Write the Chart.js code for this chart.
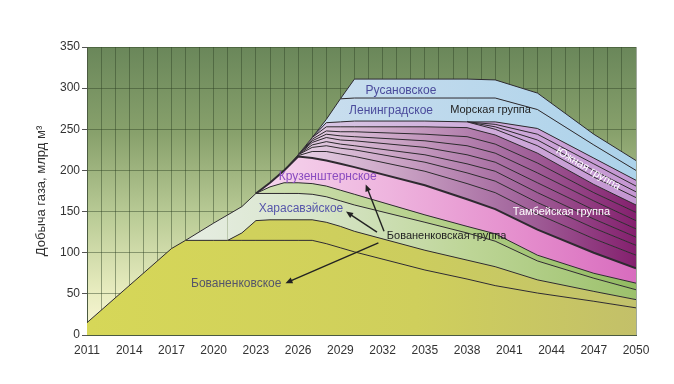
<!DOCTYPE html>
<html>
<head>
<meta charset="utf-8">
<script src="https://cdn.jsdelivr.net/npm/chart.js@4.4.1/dist/chart.umd.min.js"></script>
<style>
  html, body { margin: 0; padding: 0; background: #fff; }
</style>
</head>
<body>
<canvas id="gasChart" width="674" height="384"></canvas>
<script>
const years = [2011, 2017, 2018, 2020, 2021, 2022, 2023, 2024, 2025, 2026, 2027, 2028, 2029, 2030, 2035, 2038, 2040, 2043, 2047, 2050];
const tickLabels = ['2011', '2014', '2017', '2020', '2023', '2026', '2029', '2032', '2035', '2038', '2041', '2044', '2047', '2050'];

// layer thicknesses, bcm per year (stacked bottom to top)
const bovanenkovskoe  = [15, 105, 115, 115, 115, 115, 115, 115, 115, 115, 115, 111, 106, 101, 79, 68, 60, 51, 41, 33];
const bovanenkovGroup = [0, 0, 0, 0, 0, 9, 24, 25, 25, 25, 25, 26, 26, 25, 24, 23, 23, 16, 12, 10];
const kharasaveyskoe  = [0, 0, 0, 21, 31, 32, 33, 32, 32, 32, 31, 31, 31, 32, 34, 33, 31, 23, 16, 12];
const bovGroupUpper   = [0, 0, 0, 0, 0, 0, 0, 8, 13, 13, 13, 13, 13, 13, 9, 8, 9, 7, 6, 8];
const kruzenshternskoe = [0, 0, 0, 0, 0, 0, 0, 5, 15, 32, 31, 31, 32, 33, 36, 33, 30, 31, 25, 18];

const tambey1 = [0, 0, 0, 0, 0, 0, 0, 0, 0, 1, 8, 11, 12, 13, 17, 19, 20, 19, 17, 16];
const tambey2 = [0, 0, 0, 0, 0, 0, 0, 0, 0, 1, 5, 7, 7, 8, 11, 13, 14, 14, 13, 12];
const tambey3 = [0, 0, 0, 0, 0, 0, 0, 0, 0, 0, 3, 5, 5, 5, 9, 11, 12, 12, 11, 10];
const tambey4 = [0, 0, 0, 0, 0, 0, 0, 0, 0, 0, 3, 5, 5, 6, 9, 11, 11, 12, 11, 10];
const tambey5 = [0, 0, 0, 0, 0, 0, 0, 0, 0, 0, 2, 4, 5, 5, 8, 11, 11, 12, 11, 10];
const tambey6 = [0, 0, 0, 0, 0, 0, 0, 0, 0, 0, 2, 4, 5, 6, 8, 11, 11, 12, 10, 10];
const tambey7 = [0, 0, 0, 0, 0, 0, 0, 0, 0, 0, 2, 5, 6, 6, 9, 11, 11, 12, 10, 9];

const yuzhnaya1 = [0, 0, 0, 0, 0, 0, 0, 0, 0, 0, 0, 5, 6, 7, 7, 7, 7, 9, 9, 9];
const yuzhnaya2 = [0, 0, 0, 0, 0, 0, 0, 0, 0, 0, 0, 0, 0, 0, 0, 0, 3, 7, 8, 7];
const yuzhnaya3 = [0, 0, 0, 0, 0, 0, 0, 0, 0, 0, 0, 0, 0, 0, 0, 0, 3, 7, 8, 7];
const yuzhnaya4 = [0, 0, 0, 0, 0, 0, 0, 0, 0, 0, 0, 0, 0, 0, 0, 0, 3, 7, 7, 7];

const leningradskoe = [0, 0, 0, 0, 0, 0, 0, 0, 0, 0, 0, 4, 28, 28, 28, 29, 29, 23, 16, 12];
const rusanovskoe   = [0, 0, 0, 0, 0, 0, 0, 0, 0, 0, 0, 0, 0, 23, 23, 23, 22, 20, 13, 12];

// horizontal colour ramps for the fills
function ramp(stops) {
  return function(context) {
    const chart = context.chart;
    const area = chart.chartArea;
    if (!area) return stops[0][1];
    const g = chart.ctx.createLinearGradient(area.left, 0, area.right, 0);
    stops.forEach(s => g.addColorStop(s[0], s[1]));
    return g;
  };
}

const yellowFill  = ramp([[0, '#d6d758'], [0.6, '#cfcf5c'], [1, '#c3c069']]);
const yellow2Fill = ramp([[0, '#d4d55a'], [0.6, '#cccd5e'], [1, '#c2c26c']]);
const kharasFill  = ramp([[0.15, '#e8eee6'], [0.4, '#d9e6cc'], [0.7, '#bdd596'], [1, '#9cc16c']]);
const greenFill   = ramp([[0.3, '#d0e0b4'], [0.6, '#b8d28e'], [1, '#92bb62']]);
const pinkFill    = ramp([[0.3, '#f6d8ee'], [0.55, '#eeb4de'], [0.8, '#e48ccc'], [1, '#d86cbe']]);
const tambeyFill  = ramp([[0.35, '#ead8ea'], [0.55, '#cda8c8'], [0.78, '#a4689e'], [1, '#84206e']]);
const yuzhFill    = ramp([[0.4, '#d8c8e4'], [0.7, '#d0aedc'], [1, '#c496d2']]);
const blueFill    = ramp([[0.4, '#cadeee'], [1, '#acd2ea']]);

const layers = [
  { label: 'Бованенковское', data: bovanenkovskoe, fill: yellowFill },
  { label: 'Бованенковская группа', data: bovanenkovGroup, fill: yellow2Fill },
  { label: 'Харасавэйское', data: kharasaveyskoe, fill: kharasFill },
  { label: 'Бованенковская группа (прочие)', data: bovGroupUpper, fill: greenFill },
  { label: 'Крузенштернское', data: kruzenshternskoe, fill: pinkFill, width: 2 },
  { label: 'Тамбейская группа 1', data: tambey1, fill: tambeyFill },
  { label: 'Тамбейская группа 2', data: tambey2, fill: tambeyFill },
  { label: 'Тамбейская группа 3', data: tambey3, fill: tambeyFill },
  { label: 'Тамбейская группа 4', data: tambey4, fill: tambeyFill },
  { label: 'Тамбейская группа 5', data: tambey5, fill: tambeyFill },
  { label: 'Тамбейская группа 6', data: tambey6, fill: tambeyFill },
  { label: 'Тамбейская группа 7', data: tambey7, fill: tambeyFill },
  { label: 'Южная группа 1', data: yuzhnaya1, fill: yuzhFill },
  { label: 'Южная группа 2', data: yuzhnaya2, fill: yuzhFill },
  { label: 'Южная группа 3', data: yuzhnaya3, fill: yuzhFill },
  { label: 'Южная группа 4', data: yuzhnaya4, fill: yuzhFill },
  { label: 'Ленинградское', data: leningradskoe, fill: blueFill },
  { label: 'Русановское', data: rusanovskoe, fill: blueFill }
];

// text notes placed in data coordinates (year, bcm)
const notes = [
  { text: 'Русановское', x: 2033.3, y: 297, color: '#4b4b9c', size: 12, align: 'center' },
  { text: 'Ленинградское', x: 2032.6, y: 272, color: '#4b4b9c', size: 12, align: 'center' },
  { text: 'Морская группа', x: 2036.8, y: 273, color: '#222', size: 11, align: 'left' },
  { text: 'Крузенштернское', x: 2028.1, y: 193, color: '#8a4cc0', size: 12, align: 'center' },
  { text: 'Харасавэйское', x: 2026.2, y: 153, color: '#5656aa', size: 12, align: 'center' },
  { text: 'Бованенковское', x: 2021.6, y: 62, color: '#55556a', size: 12, align: 'center' },
  { text: 'Бованенковская группа', x: 2032.3, y: 120, color: '#222', size: 11, align: 'left' },
  { text: 'Тамбейская группа', x: 2044.7, y: 149, color: '#ffffff', size: 11, align: 'center' },
  { text: 'Южная группа', x: 2046.6, y: 202, color: '#ffffff', size: 11, align: 'center', rotate: 31 }
];

const arrows = [
  { from: [2032.1, 126], to: [2030.8, 183] },
  { from: [2031.6, 125], to: [2029.4, 150] },
  { from: [2031.7, 112], to: [2025.1, 63] }
];

const plotBackground = {
  id: 'plotBackground',
  beforeDraw(chart) {
    const { ctx, chartArea: a } = chart;
    const g = ctx.createLinearGradient(0, a.top, 0, a.bottom);
    g.addColorStop(0, '#6a875a');
    g.addColorStop(0.3, '#88a16c');
    g.addColorStop(0.6, '#bccd98');
    g.addColorStop(0.85, '#e8ecbf');
    g.addColorStop(1, '#fbf8d8');
    ctx.save();
    ctx.fillStyle = g;
    ctx.fillRect(a.left, a.top, a.right - a.left, a.bottom - a.top);
    ctx.restore();
  }
};

const notesPlugin = {
  id: 'notes',
  afterDatasetsDraw(chart) {
    const { ctx, scales: { x, y } } = chart;
    ctx.save();
    ctx.strokeStyle = '#222';
    ctx.fillStyle = '#222';
    ctx.lineWidth = 1.4;
    arrows.forEach(a => {
      const x0 = x.getPixelForValue(a.from[0]), y0 = y.getPixelForValue(a.from[1]);
      const x1 = x.getPixelForValue(a.to[0]), y1 = y.getPixelForValue(a.to[1]);
      const ang = Math.atan2(y1 - y0, x1 - x0);
      ctx.beginPath();
      ctx.moveTo(x0, y0);
      ctx.lineTo(x1 - 5 * Math.cos(ang), y1 - 5 * Math.sin(ang));
      ctx.stroke();
      ctx.beginPath();
      ctx.moveTo(x1, y1);
      ctx.lineTo(x1 - 7 * Math.cos(ang) + 3 * Math.sin(ang), y1 - 7 * Math.sin(ang) - 3 * Math.cos(ang));
      ctx.lineTo(x1 - 7 * Math.cos(ang) - 3 * Math.sin(ang), y1 - 7 * Math.sin(ang) + 3 * Math.cos(ang));
      ctx.closePath();
      ctx.fill();
    });
    notes.forEach(n => {
      ctx.save();
      ctx.translate(x.getPixelForValue(n.x), y.getPixelForValue(n.y));
      if (n.rotate) ctx.rotate(n.rotate * Math.PI / 180);
      ctx.font = n.size + "px 'Liberation Sans', Arial, sans-serif";
      ctx.fillStyle = n.color;
      ctx.textAlign = n.align;
      ctx.textBaseline = 'middle';
      ctx.fillText(n.text, 0, 0);
      ctx.restore();
    });
    ctx.restore();
  }
};

Chart.defaults.font.family = "'Liberation Sans', Arial, sans-serif";
Chart.defaults.color = '#333';

function createGasChart() {
  const ctx = document.getElementById('gasChart').getContext('2d');

  const datasets = layers.map((l, i) => ({
    label: l.label,
    data: years.map((yr, k) => ({ x: yr, y: l.data[k] })),
    backgroundColor: l.fill,
    borderColor: '#2e2a30',
    borderWidth: l.width || 1,
    pointRadius: 0,
    tension: 0,
    fill: i === 0 ? 'origin' : '-1',
    segment: {
      borderColor: c => (l.data[c.p0DataIndex] === 0 && l.data[c.p1DataIndex] === 0) ? 'rgba(0,0,0,0)' : undefined
    }
  }));

  return new Chart(ctx, {
    type: 'line',
    data: { datasets: datasets },
    options: {
      responsive: false,
      animation: false,
      layout: { padding: { top: 47, right: 38, bottom: 19, left: 0 } },
      plugins: {
        legend: { display: false },
        tooltip: { enabled: false }
      },
      scales: {
        x: {
          type: 'linear',
          min: 2011,
          max: 2050,
          afterFit: s => { s.height = 30; },
          grid: { color: 'rgba(45, 65, 35, 0.45)', drawTicks: false },
          border: { color: '#4a5a40' },
          ticks: {
            stepSize: 1,
            autoSkip: false,
            maxRotation: 0,
            padding: 8,
            font: { size: 12 },
            callback: v => tickLabels.includes(String(v)) ? String(v) : ''
          }
        },
        y: {
          stacked: true,
          min: 0,
          max: 350,
          afterFit: s => { s.width = 87; },
          grid: { color: 'rgba(45, 65, 35, 0.45)', tickLength: 5, tickColor: '#555' },
          border: { color: '#4a5a40' },
          ticks: { stepSize: 50, padding: 2, font: { size: 12 } },
          title: {
            display: true,
            text: 'Добыча газа, млрд м³',
            font: { size: 13 },
            color: '#333',
            padding: { top: 34, bottom: 0 }
          }
        }
      }
    },
    plugins: [plotBackground, notesPlugin]
  });
}

document.addEventListener('DOMContentLoaded', function() {
  createGasChart();
});
</script>
</body>
</html>
